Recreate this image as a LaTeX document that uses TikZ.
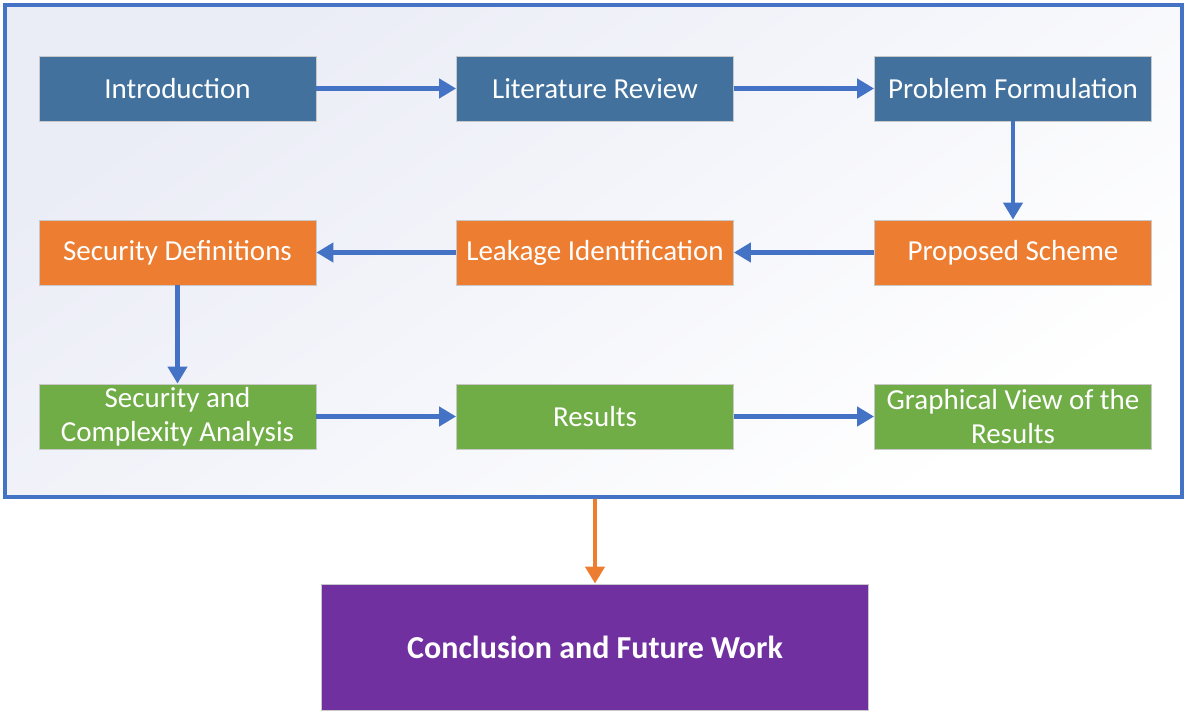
\documentclass[tikz,border=0pt]{standalone}
\usepackage{fontspec}
\setmainfont{Carlito}
\usetikzlibrary{arrows.meta}

\definecolor{stepblue}{HTML}{41719C}
\definecolor{steporange}{HTML}{ED7D31}
\definecolor{stepgreen}{HTML}{70AD47}
\definecolor{steppurple}{HTML}{7030A0}
\definecolor{linkblue}{HTML}{4472C4}

\begin{document}
\begin{tikzpicture}[
  x=1pt, y=-1pt,
  every node/.style={inner sep=1pt},
  frame/.style={draw=linkblue, line width=3.5pt,
    top color={rgb,255:red,234;green,236;blue,246}, bottom color=white,
    shading angle=35, minimum width=1177pt, minimum height=492pt},
  box/.style={draw={rgb,255:red,200;green,200;blue,200}, line width=0.8pt,
    minimum width=277pt, minimum height=65pt, text=white, align=center,
    font=\fontsize{29}{34}\selectfont},
  blue/.style={box, fill=stepblue},
  orange/.style={box, fill=steporange},
  green/.style={box, fill=stepgreen},
  final/.style={draw={rgb,255:red,200;green,200;blue,200}, line width=0.8pt,
    fill=steppurple, text=white, minimum width=547pt, minimum height=126pt,
    font=\fontsize{32}{38}\selectfont\bfseries},
  arrow/.style={draw=linkblue, line width=4.5pt, -{Triangle[length=17pt, width=19pt]}},
  oarrow/.style={draw=steporange, line width=4.5pt, -{Triangle[length=17pt, width=19pt]}}]

  \useasboundingbox (0,0) rectangle (1184,711);

  \node[frame] (frame) at (593.5,251) {};

  \node[blue]   (intro)     at (177.5,88.5)  {Introduction};
  \node[blue]   (litrev)    at (595,88.5)    {Literature Review};
  \node[blue]   (probform)  at (1013,88.5)   {Problem Formulation};

  \node[orange] (secdef)    at (177.5,252.5) {Security Definitions};
  \node[orange] (leakage)   at (595,252.5)   {Leakage Identification};
  \node[orange] (propose)   at (1013,252.5)  {Proposed Scheme};

  \node[green]  (analysis)  at (177.5,416.5) {Security and\\Complexity Analysis};
  \node[green]  (results)   at (595,416.5)   {Results};
  \node[green]  (graphview) at (1013,416.5)  {Graphical View of the\\Results};

  \node[final]  (concl)     at (595,647)     {Conclusion and Future Work};

  \draw[arrow] (intro)    -- (litrev);
  \draw[arrow] (litrev)   -- (probform);
  \draw[arrow] (probform) -- (propose);
  \draw[arrow] (propose)  -- (leakage);
  \draw[arrow] (leakage)  -- (secdef);
  \draw[arrow] (secdef)   -- (analysis);
  \draw[arrow] (analysis) -- (results);
  \draw[arrow] (results)  -- (graphview);
  \draw[oarrow] (frame.south -| concl.north) -- (concl.north);

\end{tikzpicture}
\end{document}
